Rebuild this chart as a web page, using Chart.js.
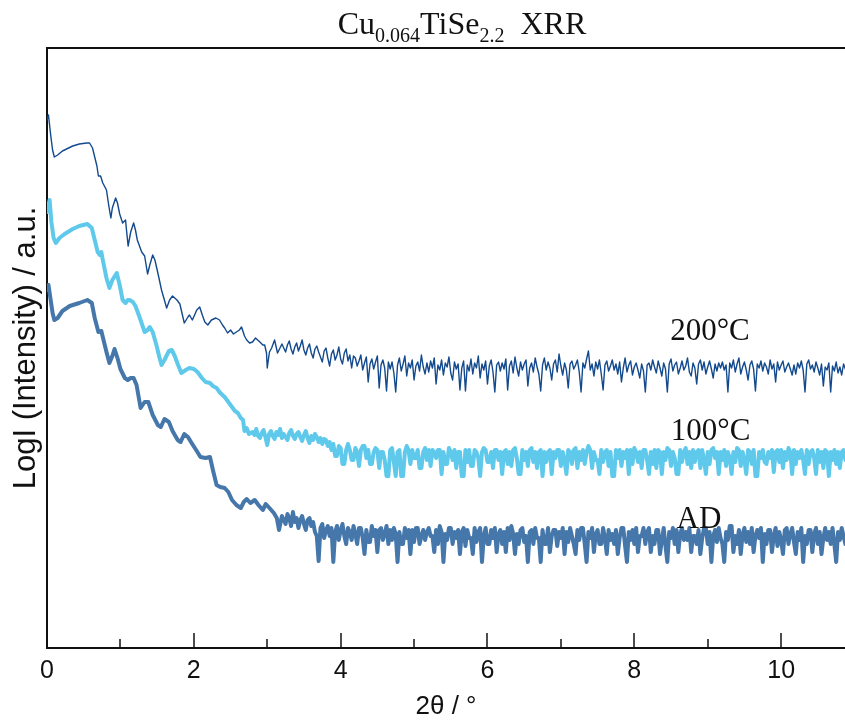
<!DOCTYPE html>
<html>
<head>
<meta charset="utf-8">
<title>Cu0.064TiSe2.2 XRR</title>
<script src="https://cdn.jsdelivr.net/npm/chart.js@4.4.1/dist/chart.umd.min.js"></script>
<style>
  html, body { margin: 0; padding: 0; background: #fff; }
  canvas { display: block; }
</style>
</head>
<body>
<canvas id="xrrChart" width="845" height="722"></canvas>
<script>
// ---- data (2theta in degrees, log intensity in arbitrary units) ----

// 200°C : oscillating part
const t200HeadX = [0, 0.02, 0.05, 0.076, 0.10, 0.145, 0.21, 0.35, 0.44, 0.54, 0.58, 0.62, 0.68, 0.70, 0.73, 0.76, 0.81, 0.84, 0.87, 0.89, 0.935, 0.96, 0.99, 1.03, 1.07, 1.08, 1.105, 1.14, 1.18, 1.205, 1.23, 1.29, 1.33, 1.37, 1.40, 1.44, 1.47, 1.51, 1.56, 1.63, 1.67, 1.71, 1.77, 1.81, 1.87, 1.92, 1.94, 1.98, 2.04, 2.08, 2.12, 2.15, 2.19, 2.24, 2.30, 2.35, 2.39, 2.42, 2.46, 2.50, 2.54, 2.58, 2.62, 2.65, 2.69, 2.72, 2.76, 2.80, 2.84, 2.90, 2.94, 2.965, 2.99, 3.00, 3.03, 3.06, 3.10, 3.14];
const t200HeadY = [5.28, 5.33, 5.13, 4.98, 4.91, 4.93, 4.97, 5.02, 5.04, 5.05, 5.05, 5.00, 4.82, 4.72, 4.72, 4.65, 4.58, 4.43, 4.30, 4.40, 4.50, 4.45, 4.34, 4.25, 4.28, 4.20, 4.02, 4.16, 4.25, 4.18, 4.08, 3.96, 3.92, 3.74, 3.83, 3.93, 3.88, 3.75, 3.58, 3.40, 3.48, 3.52, 3.48, 3.44, 3.25, 3.31, 3.33, 3.28, 3.38, 3.41, 3.32, 3.26, 3.23, 3.28, 3.30, 3.28, 3.23, 3.20, 3.15, 3.18, 3.14, 3.16, 3.18, 3.21, 3.12, 3.08, 3.05, 3.06, 3.10, 3.06, 3.03, 3.03, 2.95, 2.80, 2.96, 3.00, 3.08, 2.95];
// 200°C : noisy tail, every 0.025° from 3.20°
const t200TailStart = 3.20;
const t200Tail = [
  3.04, 3.00, 2.96, 3.03, 3.07, 2.99, 2.94, 3.01, 3.05, 2.97, 3.02, 3.08, 2.98, 2.93, 3.00, 3.04, 2.95, 2.90, 2.99, 3.02,
  2.96, 2.91, 2.86, 2.97, 3.00, 2.90, 2.82, 2.94, 2.98, 2.88, 2.93, 3.01, 2.89, 2.84, 2.95, 2.99, 2.87, 2.93, 2.80, 2.92,
  2.90, 2.82, 2.87, 2.93, 2.78, 2.85, 2.91, 2.66, 2.84, 2.89, 2.79, 2.86, 2.92, 2.60, 2.83, 2.88, 2.80, 2.57, 2.86, 2.79,
  2.86, 2.75, 2.56, 2.83, 2.90, 2.77, 2.84, 2.92, 2.72, 2.85, 2.80, 2.88, 2.68, 2.82, 2.86, 2.77, 2.93, 2.81, 2.74, 2.85,
  2.76, 2.87, 2.80, 2.90, 2.64, 2.83, 2.78, 2.88, 2.73, 2.85, 2.81, 2.91, 2.75, 2.68, 2.86, 2.79, 2.84, 2.58, 2.80, 2.87,
  2.57, 2.83, 2.77, 2.89, 2.74, 2.85, 2.80, 2.92, 2.70, 2.84, 2.78, 2.87, 2.64, 2.82, 2.88, 2.76, 2.56, 2.83, 2.86, 2.77,
  2.85, 2.79, 2.89, 2.58, 2.82, 2.87, 2.75, 2.91, 2.80, 2.72, 2.86, 2.78, 2.84, 2.88, 2.62, 2.80, 2.85, 2.76, 2.90, 2.81,
  2.74, 2.57, 2.83, 2.90, 2.78, 2.86, 2.80, 2.68, 2.84, 2.88, 2.76, 2.94, 2.82, 2.73, 2.85, 2.78, 2.60, 2.84, 2.87, 2.79,
  2.83, 2.88, 2.76, 2.56, 2.85, 2.80, 2.89, 2.97, 2.78, 2.84, 2.72, 2.86, 2.79, 2.88, 2.74, 2.58, 2.83, 2.87, 2.77, 2.82,
  2.88, 2.78, 2.84, 2.74, 2.86, 2.66, 2.80, 2.90, 2.76, 2.83, 2.87, 2.73, 2.81, 2.85, 2.78, 2.70, 2.84, 2.77, 2.56, 2.83,
  2.85, 2.78, 2.88, 2.81, 2.75, 2.87, 2.80, 2.72, 2.85, 2.79, 2.56, 2.84, 2.89, 2.77, 2.83, 2.86, 2.74, 2.80, 2.87, 2.78,
  2.82, 2.90, 2.76, 2.72, 2.85, 2.80, 2.64, 2.84, 2.88, 2.78, 2.86, 2.74, 2.81, 2.87, 2.79, 2.70, 2.84, 2.77, 2.85, 2.80,
  2.86, 2.78, 2.83, 2.56, 2.85, 2.80, 2.88, 2.76, 2.84, 2.90, 2.74, 2.81, 2.86, 2.78, 2.68, 2.83, 2.87, 2.79, 2.57, 2.84,
  2.80, 2.87, 2.77, 2.85, 2.81, 2.74, 2.88, 2.79, 2.84, 2.66, 2.86, 2.78, 2.83, 2.87, 2.76, 2.81, 2.85, 2.79, 2.73, 2.83,
  2.74, 2.85, 2.80, 2.87, 2.78, 2.56, 2.84, 2.88, 2.79, 2.83, 2.76, 2.86, 2.80, 2.73, 2.84, 2.62, 2.81, 2.78, 2.85, 2.56,
  2.82, 2.77, 2.86, 2.75, 2.81, 2.73, 2.84, 2.79, 2.80
];

// 100°C : oscillating part
const t100HeadX = [0, 0.035, 0.06, 0.09, 0.12, 0.17, 0.24, 0.35, 0.44, 0.55, 0.61, 0.65, 0.69, 0.72, 0.74, 0.76, 0.81, 0.85, 0.89, 0.95, 0.99, 1.03, 1.07, 1.10, 1.125, 1.17, 1.205, 1.26, 1.33, 1.37, 1.40, 1.44, 1.49, 1.53, 1.56, 1.60, 1.66, 1.70, 1.74, 1.78, 1.83, 1.89, 1.94, 2.00, 2.05, 2.11, 2.16, 2.22, 2.26, 2.31, 2.36, 2.42, 2.46, 2.51, 2.56, 2.60, 2.64, 2.67, 2.69, 2.72, 2.75];
const t100HeadY = [4.36, 4.48, 4.26, 4.10, 4.05, 4.10, 4.14, 4.19, 4.22, 4.24, 4.20, 4.08, 3.96, 3.93, 3.96, 3.88, 3.70, 3.60, 3.68, 3.75, 3.63, 3.48, 3.45, 3.48, 3.48, 3.46, 3.42, 3.31, 3.16, 3.18, 3.21, 3.16, 3.03, 2.91, 2.83, 2.88, 2.97, 2.98, 2.92, 2.84, 2.75, 2.78, 2.80, 2.79, 2.76, 2.70, 2.66, 2.65, 2.62, 2.60, 2.55, 2.51, 2.47, 2.42, 2.37, 2.35, 2.30, 2.28, 2.17, 2.20, 2.14];
// 100°C : noisy tail, every 0.025° from 2.80°
const t100TailStart = 2.80;
const t100Tail = [
  2.16, 2.13, 2.19, 2.12, 2.10, 2.15, 2.18, 2.11, 2.03, 2.14, 2.17, 2.12, 2.09, 2.16, 2.13, 2.19, 2.10, 2.14, 2.11, 2.08,
  2.15, 2.18, 2.12, 2.09, 2.14, 2.16, 2.11, 2.07, 2.13, 2.17, 2.10, 2.05, 2.12, 2.08, 2.14, 2.11, 2.06, 2.10, 2.04, 2.09,
  2.08, 2.02, 2.06, 1.98, 2.04, 1.92, 1.92, 2.02, 2.00, 1.84, 1.84, 1.98, 2.04, 1.98, 1.88, 1.88, 2.00, 1.96, 1.82, 1.98,
  2.02, 2.02, 1.90, 1.98, 1.84, 1.84, 1.96, 2.00, 1.98, 1.80, 1.96, 1.96, 1.88, 1.72, 1.72, 1.98, 2.00, 1.86, 1.72, 1.96,
  1.98, 1.72, 1.72, 1.96, 2.02, 1.98, 1.84, 1.98, 1.90, 1.90, 1.98, 1.80, 1.80, 1.96, 2.00, 1.88, 1.98, 1.82, 1.98, 1.96,
  1.90, 1.98, 1.98, 1.74, 1.96, 1.84, 1.84, 2.00, 1.96, 1.88, 1.98, 1.80, 1.96, 1.96, 1.72, 1.72, 1.98, 1.86, 1.98, 1.82,
  1.82, 1.98, 1.96, 1.90, 1.72, 1.96, 2.00, 1.98, 1.86, 1.86, 1.96, 1.80, 1.98, 1.98, 1.88, 1.96, 1.74, 1.96, 1.98, 1.84,
  1.96, 1.82, 1.98, 2.00, 1.90, 1.74, 1.74, 1.98, 1.88, 1.96, 1.82, 1.98, 2.00, 1.86, 1.96, 1.80, 1.96, 1.98, 1.72, 1.96,
  1.86, 1.96, 1.98, 1.74, 1.96, 1.90, 1.98, 1.98, 1.82, 1.96, 1.88, 1.74, 1.98, 1.96, 1.84, 1.98, 2.00, 1.80, 1.96, 1.88,
  1.98, 1.84, 1.96, 2.02, 1.98, 1.80, 1.96, 1.88, 1.88, 1.74, 1.98, 1.86, 1.96, 1.98, 1.82, 1.96, 1.72, 1.72, 1.98, 1.90,
  1.98, 1.82, 1.96, 1.90, 1.98, 1.74, 1.98, 1.84, 2.00, 1.96, 1.86, 1.96, 1.80, 1.98, 1.98, 1.88, 1.74, 1.96, 1.84, 1.98,
  1.80, 1.98, 1.96, 1.74, 1.96, 1.88, 2.00, 1.98, 1.82, 1.96, 1.90, 1.74, 1.74, 1.98, 1.86, 1.96, 2.00, 1.84, 1.96, 1.80,
  1.98, 1.86, 1.96, 1.98, 1.80, 1.98, 1.88, 1.74, 1.96, 1.84, 1.98, 2.00, 1.90, 1.96, 1.74, 1.96, 1.88, 1.98, 1.82, 1.96,
  1.90, 1.74, 1.96, 1.86, 2.00, 1.98, 1.82, 1.96, 1.88, 1.74, 1.98, 1.96, 1.84, 1.98, 1.72, 1.72, 1.96, 1.90, 1.98, 1.86,
  1.84, 1.96, 1.90, 1.98, 1.76, 1.96, 1.98, 1.86, 1.98, 1.80, 1.96, 1.88, 2.00, 1.96, 1.74, 1.98, 1.84, 1.96, 1.90, 1.98,
  1.88, 1.74, 1.98, 1.84, 1.96, 1.98, 1.90, 1.74, 1.98, 1.86, 1.96, 1.80, 1.98, 1.96, 1.72, 1.96, 1.88, 1.98, 1.84, 1.96,
  1.80, 1.96, 1.98, 1.88, 1.96
];

// AD (as deposited) : oscillating part
const adHeadX = [0, 0.02, 0.05, 0.076, 0.10, 0.145, 0.21, 0.31, 0.44, 0.55, 0.61, 0.65, 0.70, 0.74, 0.77, 0.81, 0.85, 0.89, 0.92, 0.96, 1.00, 1.06, 1.10, 1.14, 1.18, 1.22, 1.275, 1.33, 1.38, 1.44, 1.51, 1.55, 1.60, 1.66, 1.71, 1.78, 1.82, 1.87, 1.92, 1.97, 2.04, 2.09, 2.16, 2.22, 2.26, 2.31, 2.36, 2.42, 2.47, 2.52, 2.58, 2.64, 2.68, 2.72, 2.77, 2.83, 2.88, 2.94, 2.98, 3.03, 3.09, 3.13, 3.16];
const adHeadY = [3.58, 3.63, 3.48, 3.35, 3.28, 3.30, 3.37, 3.42, 3.45, 3.48, 3.45, 3.30, 3.16, 3.17, 3.08, 2.96, 2.85, 2.92, 2.99, 2.90, 2.79, 2.70, 2.68, 2.70, 2.70, 2.63, 2.40, 2.46, 2.46, 2.33, 2.23, 2.21, 2.29, 2.26, 2.17, 2.08, 2.06, 2.14, 2.11, 2.05, 1.97, 1.91, 1.90, 1.91, 1.78, 1.63, 1.61, 1.60, 1.56, 1.48, 1.43, 1.40, 1.46, 1.49, 1.45, 1.48, 1.43, 1.38, 1.44, 1.40, 1.35, 1.30, 1.18];
// AD : noisy tail, every 0.025° from 3.20°
const adTailStart = 3.20;
const adTail = [
  1.32, 1.28, 1.24, 1.34, 1.30, 1.22, 1.36, 1.26, 1.30, 1.20, 1.28, 1.32, 1.24, 1.18, 1.28, 1.30, 1.22, 1.26, 1.16, 1.12,
  0.87, 1.20, 1.24, 1.10, 1.18, 1.22, 1.12, 1.20, 0.86, 1.16, 1.22, 1.08, 1.18, 1.24, 1.12, 1.04, 1.20, 1.16, 1.08, 1.22,
  1.14, 1.04, 1.20, 1.20, 1.10, 0.94, 1.18, 1.06, 1.06, 1.22, 1.12, 1.18, 0.96, 1.18, 1.20, 1.08, 1.14, 1.22, 1.04, 1.18,
  1.08, 1.20, 1.14, 0.86, 1.16, 1.04, 1.04, 1.20, 1.10, 1.18, 0.94, 1.18, 1.06, 1.20, 1.20, 1.04, 1.12, 1.18, 1.08, 1.16,
  1.20, 1.12, 1.12, 0.96, 1.18, 1.04, 1.22, 1.16, 0.86, 1.14, 1.08, 1.20, 1.20, 1.04, 1.16, 1.10, 1.18, 0.94, 1.16, 1.20,
  1.02, 1.18, 1.10, 1.10, 0.94, 1.20, 1.06, 1.16, 1.20, 0.86, 1.12, 1.20, 1.04, 1.04, 1.18, 1.10, 1.20, 0.96, 1.14, 1.18,
  1.04, 1.16, 0.96, 1.20, 1.08, 1.22, 1.14, 0.94, 1.14, 1.04, 1.18, 1.20, 1.06, 1.12, 0.86, 1.16, 1.18, 1.04, 1.20, 1.10,
  1.10, 0.86, 1.18, 1.04, 1.04, 1.20, 0.96, 1.12, 1.18, 1.18, 1.02, 1.16, 1.10, 1.20, 0.94, 1.16, 1.06, 1.20, 1.12, 1.04,
  0.94, 1.18, 1.08, 1.20, 1.20, 1.04, 0.86, 1.16, 1.10, 1.20, 0.96, 1.14, 1.18, 1.04, 1.04, 1.20, 1.10, 0.94, 1.18, 1.08,
  1.14, 1.04, 1.18, 0.94, 1.10, 1.20, 1.20, 1.02, 0.86, 1.16, 1.08, 1.18, 1.04, 1.20, 0.96, 1.12, 1.12, 1.20, 1.04, 1.16,
  1.20, 0.96, 1.12, 1.04, 1.18, 1.18, 0.94, 1.08, 1.20, 1.02, 0.86, 1.16, 1.10, 1.20, 1.04, 1.18, 0.96, 1.14, 1.20, 1.08,
  1.16, 1.08, 1.20, 0.96, 1.12, 1.12, 1.04, 1.18, 0.94, 1.10, 1.20, 1.20, 1.04, 1.16, 0.86, 1.12, 1.18, 1.06, 1.20, 1.10,
  1.04, 0.86, 1.16, 1.08, 1.22, 1.22, 0.96, 1.12, 1.04, 1.18, 0.94, 1.14, 1.20, 1.06, 1.16, 1.04, 1.20, 0.96, 1.12, 1.18,
  1.10, 1.20, 0.86, 1.14, 1.04, 1.18, 1.18, 0.96, 1.12, 1.20, 1.02, 1.16, 1.08, 0.94, 1.18, 1.20, 1.04, 1.14, 1.20, 1.06,
  0.94, 1.16, 1.08, 1.20, 0.86, 1.12, 1.04, 1.18, 1.18, 0.96, 1.14, 1.20, 1.04, 1.16, 0.94, 1.10, 1.20, 1.08, 1.16, 1.04,
  1.20, 1.04, 0.86, 1.16, 1.08, 1.20, 1.12, 1.04, 1.18
];
const tailStep = 0.025;

// curve labels and where they sit (data units)
const curveLabels = ['200°C', '100°C', 'AD'];
const labelX = [9.03, 9.04, 8.88];
const labelY = [3.08, 2.08, 1.20];

// x axis tick marks (labels on even values only)
const tickValues = [0, 1, 2, 3, 4, 5, 6, 7, 8, 9, 10];

const colors = ['#13498d', '#5fc9ec', '#4677ab'];

function buildPoints(headX, headY, tailStart, tail) {
  const pts = headX.map((x, i) => ({ x: x, y: headY[i] }));
  tail.forEach((v, i) => pts.push({ x: tailStart + i * tailStep, y: v }));
  return pts;
}

const sansFont = 'Arial, "Liberation Sans", sans-serif';
const serifFont = '"Times New Roman", "Liberation Serif", serif';

const decorPlugin = {
  id: 'decor',
  afterDraw(chart) {
    const ctx = chart.ctx;
    const xs = chart.scales.x;
    const ys = chart.scales.y;
    const bottom = chart.chartArea.bottom;
    ctx.save();

    // inward tick marks
    ctx.strokeStyle = '#111';
    ctx.lineWidth = 1.5;
    tickValues.forEach(t => {
      const px = Math.round(xs.getPixelForValue(t));
      const len = t % 2 === 0 ? 15 : 9;
      ctx.beginPath();
      ctx.moveTo(px, bottom);
      ctx.lineTo(px, bottom - len);
      ctx.stroke();
    });

    // curve labels
    ctx.fillStyle = '#111';
    ctx.font = '31px ' + serifFont;
    ctx.textAlign = 'center';
    ctx.textBaseline = 'alphabetic';
    curveLabels.forEach((txt, i) => {
      ctx.fillText(txt, xs.getPixelForValue(labelX[i]), ys.getPixelForValue(labelY[i]));
    });

    // title with subscripts
    const parts = [['Cu', false], ['0.064', true], ['TiSe', false], ['2.2', true], ['  XRR', false]];
    const big = '32px ' + serifFont, small = '20px ' + serifFont;
    let total = 0;
    parts.forEach(p => { ctx.font = p[1] ? small : big; total += ctx.measureText(p[0]).width; });
    let x = 462 - total / 2;
    ctx.textAlign = 'left';
    parts.forEach(p => {
      ctx.font = p[1] ? small : big;
      ctx.fillText(p[0], x, p[1] ? 42 : 34);
      x += ctx.measureText(p[0]).width;
    });
    ctx.restore();
  }
};

const ctx = document.getElementById('xrrChart').getContext('2d');
new Chart(ctx, {
  type: 'line',
  data: {
    datasets: [
      { label: '200°C', data: buildPoints(t200HeadX, t200HeadY, t200TailStart, t200Tail), borderColor: colors[0], borderWidth: 1.4 },
      { label: '100°C', data: buildPoints(t100HeadX, t100HeadY, t100TailStart, t100Tail), borderColor: colors[1], borderWidth: 4 },
      { label: 'AD', data: buildPoints(adHeadX, adHeadY, adTailStart, adTail), borderColor: colors[2], borderWidth: 4 }
    ]
  },
  options: {
    responsive: false,
    animation: false,
    devicePixelRatio: 1,
    parsing: false,
    elements: {
      point: { radius: 0 },
      line: { tension: 0, borderJoinStyle: 'round', borderCapStyle: 'round', fill: false }
    },
    layout: { padding: { top: 48, right: 0, left: 0, bottom: 0 } },
    plugins: {
      legend: { display: false },
      tooltip: { enabled: false },
      title: { display: false }
    },
    scales: {
      x: {
        type: 'linear',
        position: 'bottom',
        min: 0,
        max: 10.87,
        grid: { display: false },
        border: { display: true, color: '#111', width: 2 },
        ticks: {
          stepSize: 2,
          includeBounds: false,
          padding: 0,
          color: '#111',
          font: { family: sansFont, size: 25 },
          callback: v => String(v)
        },
        title: {
          display: true,
          text: '2θ / °',
          color: '#111',
          font: { family: sansFont, size: 26 },
          padding: { top: 0, bottom: 0 }
        },
        afterFit(scale) { scale.height = 74; }
      },
      xTop: {
        type: 'linear',
        position: 'top',
        min: 0,
        max: 10.87,
        grid: { display: false },
        ticks: { display: false },
        border: { display: true, color: '#111', width: 2 },
        afterFit(scale) { scale.height = 0; }
      },
      y: {
        type: 'linear',
        min: 0,
        max: 6,
        grid: { display: false },
        ticks: { display: false },
        border: { display: true, color: '#111', width: 2 },
        title: {
          display: true,
          text: 'LogI (Intensity) / a.u.',
          color: '#111',
          font: { family: sansFont, size: 31 },
          padding: { top: 8, bottom: 0 }
        },
        afterFit(scale) { scale.width = 47; }
      }
    }
  },
  plugins: [decorPlugin]
});
</script>
</body>
</html>
